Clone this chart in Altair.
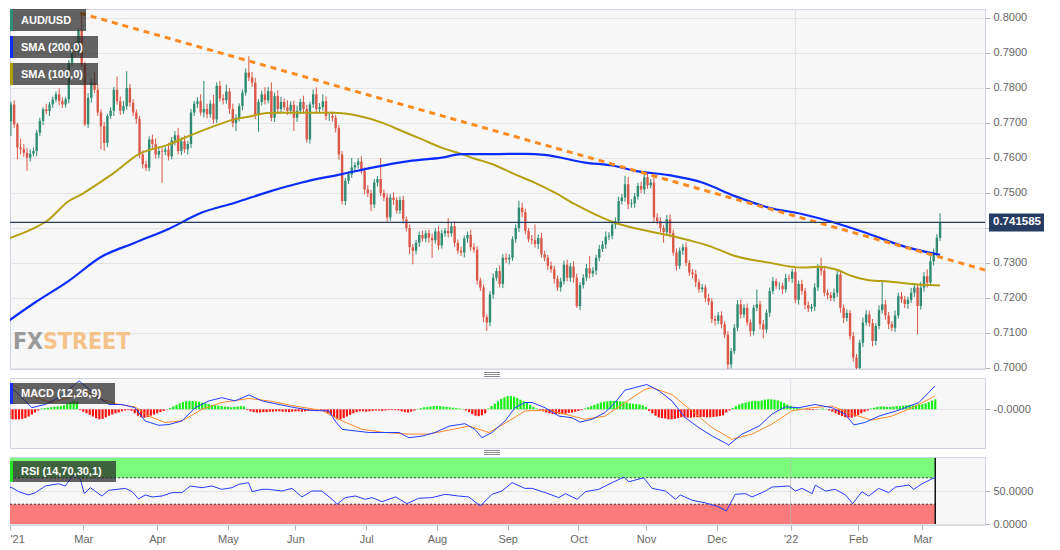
import json
import altair as alt
import pandas as pd

# ---------------- data (prices in pips) ----------------
first_open = 7745
closes = [
    7768, 7715, 7705, 7753, 7696, 7630, 7625, 7615, 7601, 7612,
    7620, 7672, 7706, 7739, 7734, 7753, 7767, 7782, 7763, 7753,
    7768, 7872, 7910, 7903, 7963, 7867, 7696, 7772, 7815, 7795,
    7730, 7691, 7643, 7720, 7735, 7795, 7762, 7735, 7748, 7800,
    7758, 7730, 7712, 7610, 7582, 7572, 7653, 7640, 7610, 7620,
    7618, 7624, 7605, 7650, 7665, 7620, 7648, 7625, 7640, 7730,
    7755, 7762, 7730, 7740, 7725, 7755, 7710, 7806, 7770, 7765,
    7790, 7740, 7700, 7715, 7748, 7787, 7844, 7830, 7815, 7725,
    7760, 7782, 7765, 7791, 7715, 7777, 7740, 7760, 7745, 7735,
    7752, 7715, 7735, 7760, 7740, 7653, 7753, 7782, 7740, 7745,
    7762, 7720, 7720, 7715, 7685, 7610, 7477, 7535, 7553, 7573,
    7580, 7590, 7563, 7510, 7500, 7467, 7530, 7540, 7500, 7487,
    7430, 7487, 7480, 7450, 7480, 7425, 7400, 7345, 7335, 7358,
    7380, 7370, 7385, 7372, 7365, 7390, 7350, 7385, 7392, 7385,
    7405, 7358, 7335, 7330, 7370, 7380, 7345, 7338, 7250, 7230,
    7145, 7130, 7210, 7258, 7277, 7240, 7315, 7310, 7315, 7368,
    7400, 7458, 7445, 7392, 7368, 7365, 7354, 7372, 7325, 7315,
    7292, 7282, 7255, 7230, 7248, 7295, 7258, 7290, 7258, 7177,
    7237, 7258, 7285, 7270, 7278, 7315, 7340, 7353, 7375, 7378,
    7410, 7420, 7477, 7487, 7525, 7468, 7470, 7490, 7520, 7510,
    7545, 7522, 7530, 7430, 7420, 7400, 7388, 7425, 7385, 7330,
    7292, 7335, 7345, 7300, 7273, 7268, 7245, 7225, 7230, 7200,
    7190, 7140, 7135, 7150, 7125, 7095, 7010, 7048, 7115, 7182,
    7153, 7172, 7130, 7105, 7172, 7182, 7125, 7110, 7158, 7220,
    7248, 7235, 7235, 7225, 7257, 7255, 7275, 7195, 7240, 7220,
    7180, 7170, 7175, 7230, 7286, 7278, 7215, 7208, 7200, 7215,
    7267, 7172, 7143, 7157, 7091, 7030, 7000, 7072, 7130, 7153,
    7128, 7077, 7120, 7165, 7182, 7150, 7125, 7115, 7150, 7205,
    7196, 7183, 7195, 7215, 7230, 7177, 7230, 7262, 7244, 7305,
    7329, 7372, 7415,
]
up_wick = [
    10, 5, 20, 8, 12, 5, 25, 15, 14, 13,
    10, 8, 9, 6, 16, 7, 8, 8, 17, 10,
    7, 8, 5, 22, 7, 51, 8, 13, 12, 30,
    15, 9, 12, 6, 10, 8, 38, 14, 15, 48,
    12, 10, 9, 8, 12, 10, 9, 14, 16, 12,
    10, 8, 20, 10, 12, 21, 11, 16, 9, 10,
    8, 12, 20, 80, 15, 10, 25, 10, 14, 12,
    20, 10, 15, 10, 8, 9, 12, 47, 16, 14,
    8, 10, 20, 12, 25, 10, 16, 14, 10, 20,
    10, 12, 15, 9, 18, 12, 8, 14, 20, 12,
    20, 14, 10, 12, 8, 9, 10, 8, 10, 27,
    8, 9, 15, 10, 12, 9, 10, 8, 60, 10,
    12, 10, 15, 8, 10, 12, 8, 10, 9, 8,
    10, 12, 8, 10, 12, 9, 15, 10, 8, 36,
    10, 14, 9, 12, 8, 10, 15, 12, 10, 8,
    9, 8, 10, 12, 9, 16, 10, 12, 10, 8,
    10, 20, 14, 10, 8, 12, 45, 10, 14, 10,
    8, 12, 10, 9, 10, 12, 14, 10, 15, 12,
    8, 10, 12, 35, 10, 9, 12, 10, 15, 10,
    9, 10, 12, 10, 24, 21, 12, 10, 9, 12,
    11, 14, 10, 15, 12, 10, 8, 12, 14, 10,
    12, 9, 10, 14, 8, 10, 12, 9, 10, 8,
    12, 10, 9, 10, 12, 8, 10, 9, 10, 12,
    14, 10, 12, 9, 8, 42, 10, 12, 9, 10,
    12, 8, 10, 9, 12, 10, 8, 14, 10, 12,
    9, 10, 8, 12, 10, 29, 14, 10, 9, 12,
    10, 12, 9, 10, 8, 12, 10, 9, 14, 12,
    10, 12, 8, 14, 66, 12, 10, 9, 14, 10,
    12, 10, 9, 14, 12, 10, 16, 12, 20, 14,
    12, 10, 27,
]
down_wick = [
    10, 8, 15, 42, 10, 34, 15, 12, 38, 11,
    8, 15, 10, 12, 9, 14, 10, 8, 12, 10,
    9, 12, 8, 15, 10, 7, 5, 10, 14, 9,
    10, 66, 23, 12, 8, 15, 10, 12, 9, 10,
    12, 10, 14, 10, 12, 9, 10, 15, 12, 10,
    89, 10, 12, 9, 14, 10, 12, 10, 15, 12,
    10, 12, 9, 14, 12, 10, 12, 10, 9, 12,
    10, 14, 12, 23, 10, 12, 9, 10, 12, 14,
    50, 10, 12, 9, 10, 12, 14, 10, 9, 12,
    10, 38, 12, 10, 14, 9, 12, 10, 12, 9,
    10, 12, 14, 10, 12, 15, 10, 12, 9, 10,
    12, 10, 9, 14, 12, 19, 10, 12, 9, 10,
    12, 10, 14, 9, 10, 12, 10, 20, 39, 10,
    12, 9, 10, 14, 50, 10, 12, 9, 10, 12,
    10, 12, 9, 10, 14, 12, 10, 9, 12, 10,
    14, 24, 10, 12, 9, 10, 12, 10, 14, 9,
    10, 12, 14, 10, 9, 12, 10, 14, 9, 10,
    12, 10, 14, 10, 12, 9, 10, 12, 14, 5,
    12, 10, 9, 14, 10, 12, 10, 9, 12, 10,
    10, 12, 9, 10, 12, 14, 10, 12, 9, 10,
    12, 10, 9, 14, 10, 12, 30, 10, 12, 9,
    14, 10, 12, 9, 10, 12, 14, 10, 9, 12,
    10, 12, 14, 10, 12, 10, 17, 12, 9, 10,
    12, 10, 9, 15, 12, 10, 14, 25, 10, 12,
    9, 10, 12, 14, 10, 9, 12, 10, 14, 10,
    12, 10, 9, 12, 10, 14, 10, 12, 9, 10,
    12, 14, 15, 10, 10, 12, 33, 10, 12, 9,
    10, 15, 12, 9, 10, 12, 14, 10, 12, 9,
    10, 12, 14, 9, 12, 81, 10, 12, 14, 10,
    12, 10, 9,
]

sma200_bar = [0, 10.5, 21, 31, 41.6, 52.2, 62.4, 72.7, 83.3, 93.5, 106, 116.2, 126.8, 137,
              143.3, 152.6, 163, 169, 181.5, 190.9, 197.1, 207.7, 218, 228.2, 238.8, 249,
              259.3, 269.9, 280.2, 292]
sma200_val = [7120, 7187, 7249, 7317, 7358, 7398, 7444, 7472, 7504, 7530, 7554, 7574, 7591, 7601,
              7611, 7611, 7612, 7609, 7587, 7577, 7563, 7551, 7530, 7491, 7458, 7440,
              7415, 7383, 7349, 7323]
sma100_bar = [0, 10.5, 14.2, 21, 25.1, 31.3, 34.4, 42.8, 52.2, 58.4, 67.7, 72.7, 78, 80.1, 85.1,
              95.7, 102.9, 111.3, 118.4, 124.6, 130.9, 137.1, 143.3, 147.3, 152.6, 159.8, 166,
              172.2, 178.4, 184.7, 190.9, 197.1, 203.3, 208.6, 213.9, 220.1, 228.2, 238.8, 249,
              254.3, 259.3, 264.6, 269.9, 276.1, 282.3, 292]
sma100_val = [7363, 7401, 7420, 7477, 7497, 7534, 7553, 7611, 7639, 7663, 7696, 7711, 7720, 7725, 7729,
              7729, 7729, 7720, 7701, 7677, 7653, 7629, 7611, 7598, 7583, 7553, 7529,
              7501, 7468, 7439, 7415, 7399, 7387, 7377, 7365, 7349, 7320, 7301, 7287,
              7289, 7282, 7263, 7251, 7247, 7241, 7236]

trend_bar = [24.5, 306.0]
trend_val = [8014, 7280]

current_price = 0.741585

macd_bar = [1.7, 5.8, 11, 15.1, 19.4, 22.6, 25.7, 28.8, 31.9, 35, 39, 43.1, 46.2, 50.5, 53.7, 57.7,
            61.8, 66.1, 70.1, 74.2, 78.5, 82.6, 87.9, 92.9, 98.1, 103.4, 105.3, 107.5, 111.5,
            115.9, 120.8, 125.2, 128.3, 132.4, 136.4, 140.8, 145.7, 148.8, 151, 154.1, 158.2,
            161.3, 164.4, 166.6, 170.6, 175, 179, 181.5, 185.2, 189.3, 192.4, 195.5, 202.3,
            206.1, 210.1, 214.2, 218.5, 222.6, 227.8, 231.9, 237.2, 241.2, 245.3, 249.6, 254.6,
            259.9, 263.9, 266.7, 270.1, 274.5, 280.7, 286.9, 291.9]
macd_val = [66, 46, 4, 12, 29, 50, 71, 50, 29, 12, 12, 4, -29, -40, -38, -29,
            4, 21, 29, 21, 36, 21, 12, 4, -3, -4, -29, -50, -54,
            -58, -58, -58, -71, -67, -58, -42, -36, -50, -71, -58, -29,
            4, 17, 17, 4, -17, -21, -32, -25, -8, 17, 48, 62,
            46, 21, -21, -46, -67, -89, -62, -42, -12, 6, 4, 12,
            4, -12, -39, -33, -17, -2, 17, 58]
signal_bar = [1.7, 5.8, 12, 17.3, 22.6, 27.5, 32.8, 38.1, 43.1, 47.4, 52.4, 57.7, 63.9, 70.1, 78.5,
              84.8, 92.9, 101.3, 107.5, 113.7, 120.8, 128.3, 134.5, 140.8, 147, 153.2, 159.4,
              164.4, 171.9, 176.8, 183, 189.3, 195.5, 201.7, 203.9, 210.1, 216.3, 222.6, 228.8,
              235, 241.2, 247.4, 253.7, 259.9, 266.1, 272.3, 278.5, 284.8, 291.9]
signal_val = [71, 58, 29, 17, 29, 46, 25, 12, 6, -17, -33, -29, 0, 17, 27,
              21, 8, -3, -29, -50, -58, -62, -62, -52, -42, -58, -29,
              -4, -2, -12, -25, -17, 17, 50, 54, 37, -4, -46, -75,
              -62, -37, -4, 4, 8, -12, -27, -17, 4, 33]
hist_val = [
    -8, -12, -16, -20, -23, -25, -25, -25, -24, -22, -18, -13, -8, -3,
    2, 3, 4, 5, 6, 7, 8, 10, 14, 18, 21, 20,
    -2, -6, -10, -14, -18, -22, -25, -24, -20, -16, -13, -10, -8, -5, -3, -2,
    -4, -10, -16, -20, -21, -19, -16, -13, -10, -7, -4, -1,
    3, 7, 11, 15, 18, 20, 21, 21, 20, 19, 17, 15, 13, 11, 10, 9, 8, 7, 6, 5, 6, 7, 8, 7,
    -2, -5, -7, -8, -8, -7, -7, -6, -6, -5, -5, -6, -6, -7, -6, -5, -5, -6, -5, -4, -4, -3, -3, -4, -6,
    -10, -14, -20, -25, -25, -22, -18, -14, -10, -7,
    -5, -5, -6, -5, -4, -3, -3, -4, -3, -2, -2, -2, -3, -5, -7, -8, -6, -3,
    1, 3, 5, 6, 7, 8, 8, 8, 7, 6, 5, 4, 3, 2, 1,
    -3, -7, -12, -16, -17, -15, -10,
    2, 8, 14, 20, 26, 30, 33, 33, 31, 28, 24, 20, 16, 11, 6, 2,
    -2, -5, -8, -10, -12, -12, -11, -12, -11, -9, -8, -6, -4, -2,
    2, 5, 8, 11, 14, 17, 19, 20, 21, 21, 21, 20, 19, 17, 15, 14, 13, 12, 10, 6,
    -4, -10, -16, -20, -22, -23, -25, -25, -24, -22, -20, -20, -21, -21, -20, -20, -19, -19, -20,
    -20, -19, -18, -17, -15, -8, -3,
    3, 8, 12, 15, 17, 19, 20, 21, 21, 22, 24, 25, 25, 24, 22, 19, 16, 12, 9, 6, 4,
    2, 1, -1, -2, -2, -1, 1, 2, 1,
    -3, -6, -10, -14, -17, -20, -21, -21, -18, -14, -10, -6, -3,
    2, 4, 6, 7, 7, 6, 6, 7, 8, 8, 9, 10, 11, 10, 11, 12, 13, 15, 18, 21, 25,
]
rsi_bar = [1.7, 4.8, 6.9, 10, 12.1, 15.2, 19.3, 21.4, 24, 26.1, 27.3, 29.2, 32.8, 34.9, 37.5, 40.1,
           42.2, 44.2, 46.3, 48.4, 51.5, 54.6, 57.7, 60.3, 63.9, 67, 70.1, 73.3, 75.3, 78.4, 79.5,
           82.6, 84.7, 88.8, 91.9, 95, 98.1, 101.2, 104.4, 105.9, 108.5, 111.6, 114.7, 116.8,
           119.9, 124.1, 127.7, 131.3, 135.5, 139.6, 143.7, 146.9, 150.5, 154.1, 157.2, 160.4,
           164.3, 166.6, 170.7, 174.9, 177, 180.6, 183.2, 187.3, 191.5, 195.1, 196.7, 201.3,
           203.9, 208.1, 211.2, 212.7, 216.4, 220.5, 224.7, 227, 229.8, 233, 235, 239.2, 241.2,
           246.5, 248.5, 250.6, 253.7, 254.7, 257.8, 260.9, 264.1, 266.3, 269.2, 271.3, 274.4,
           277.5, 279.6, 283.8, 285.3, 287.9, 292.1]
rsi_val = [57.6, 55, 49, 44, 47.5, 57.6, 61, 57.6, 75, 67.7, 46, 55, 42.4, 51, 52.5, 54,
           49, 38, 44, 41, 42.4, 47.5, 47.5, 57.6, 55, 57.6, 52.5, 55, 60, 62.6, 49,
           52.5, 52.5, 50, 54, 41, 50, 50, 37.4, 29.8, 40, 42.4, 37.4, 40,
           33.8, 41, 30.8, 39, 40, 45, 42.4, 41, 27.3, 45, 50, 62.6,
           54, 54, 47.5, 40, 46, 37.4, 49, 52.5, 62.6, 71, 64, 70,
           54, 50, 37.4, 44, 36, 32, 25.8, 19.7, 45, 46, 41, 50, 56,
           57.6, 50, 54, 46, 59, 50, 52.5, 44, 30.8, 49, 42.4, 54,
           47.5, 56, 59, 52.5, 61, 71]

price_ticks = [0.70, 0.71, 0.72, 0.73, 0.74, 0.75, 0.76, 0.77, 0.78, 0.79, 0.80]
month_bars = [27, 50, 72, 93, 115, 137, 159, 181, 202, 224, 247, 268, 288]
month_labels = ["Mar", "Apr", "May", "Jun", "Jul", "Aug", "Sep", "Oct", "Nov", "Dec", "'22", "Feb", "Mar"]
first_label = "'21"
year_bar = 247
rsi_zone_start, rsi_zone_end = 1.7, 292

# ---------------- layout ----------------
W = 975
PIP = 1e-4
XM = alt.Scale(domain=[2.706, 305.97], nice=False, zero=False)
XI_DOMAIN = [4.206, 307.47]
XI = alt.Scale(domain=XI_DOMAIN, nice=False, zero=False)
YM = alt.Scale(domain=[0.69971, 0.80257], nice=False, zero=False)
YMACD = alt.Scale(domain=[-96.75, 78.25], nice=False, zero=False)
YRSI = alt.Scale(domain=[-1.5, 101.5], nice=False, zero=False)

FONT = "Liberation Sans"

# identical axis objects shared by every layer of a panel (so they merge into one axis)
AX_MAIN = alt.Axis(orient="right", values=price_ticks, format=".4f", title=None, grid=True,
                   tickSize=5, labelPadding=3)
AX_MACD = alt.Axis(orient="right", values=[0], labelExpr="'-0.0000'", title=None, grid=True,
                   tickSize=5, labelPadding=3)
AX_RSI = alt.Axis(orient="right", values=[0, 50], format=".4f", title=None, grid=True,
                  tickSize=5, labelPadding=3)
tick_vals = [XI_DOMAIN[0]] + month_bars
tick_lbls = [first_label] + month_labels
label_expr = "''"
for v, lab in reversed(list(zip(tick_vals, tick_lbls))):
    label_expr = f"abs(datum.value - {v}) < 0.5 ? {json.dumps(lab)} : ({label_expr})"
AX_X = alt.Axis(orient="bottom", values=tick_vals, labelExpr=label_expr, title=None, grid=False,
                tickSize=5, labelPadding=3)

n = len(closes)
opens = [first_open] + closes[:-1]
candles = pd.DataFrame({
    "bar": list(range(n)),
    "open": [o * PIP for o in opens],
    "close": [c * PIP for c in closes],
})
candles["high"] = candles[["open", "close"]].max(axis=1) + pd.Series(up_wick[:n]) * PIP
candles["low"] = candles[["open", "close"]].min(axis=1) - pd.Series(down_wick[:n]) * PIP
candles["dir"] = ["up" if c >= o else "down" for o, c in zip(candles["open"], candles["close"])]


def tag(text, strip_color, top, width, h=22):
    d = pd.DataFrame({"t": [text]})
    box = alt.Chart(d).mark_rect(color="#222222", opacity=0.7).encode(
        x=alt.value(0), x2=alt.value(width), y=alt.value(top), y2=alt.value(top + h))
    strip = alt.Chart(d).mark_rect(color=strip_color).encode(
        x=alt.value(0), x2=alt.value(3), y=alt.value(top), y2=alt.value(top + h))
    label = alt.Chart(d).mark_text(color="white", fontSize=11, fontWeight="bold", align="left",
                                   baseline="middle", font=FONT).encode(
        x=alt.value(11), y=alt.value(top + h / 2 + 0.5), text="t:N")
    return [box, strip, label]


def handle(top):
    """three short grey strokes (pane resize grip) just above a panel"""
    d = pd.DataFrame({"k": [0]})
    return [alt.Chart(d).mark_rule(color="#8c8c8c", strokeWidth=1).encode(
        x=alt.value(474), x2=alt.value(490), y=alt.value(top + 2 * i + 0.5)) for i in range(3)]


# ---- main price panel ----
cscale = alt.Scale(domain=["up", "down"], range=["#2f8b72", "#db5849"])
xm = alt.X("bar:Q", scale=XM, axis=None)


def ym(field):
    return alt.Y(field, scale=YM, axis=AX_MAIN)


year_main = alt.Chart(pd.DataFrame({"bar": [year_bar]})).mark_rule(
    color="#e2e2e2", strokeWidth=1).encode(x=xm)

wm = pd.DataFrame({"a": ["FX"], "b": ["STREET"]})
wm_fx = alt.Chart(wm).mark_text(font="DejaVu Sans Condensed", fontSize=23,
                                fontWeight="bold", color="#9a9a9a", align="right",
                                baseline="alphabetic").encode(
    x=alt.value(33), y=alt.value(340), text="a:N")
wm_st = alt.Chart(wm).mark_text(font="DejaVu Sans Condensed", fontSize=23,
                                fontWeight="bold", color="#f3c389", align="left",
                                baseline="alphabetic").encode(
    x=alt.value(33), y=alt.value(340), text="b:N")

wicks = alt.Chart(candles).mark_rule(strokeWidth=1, clip=True).encode(
    x=xm, y=ym("low:Q"), y2="high:Q",
    color=alt.Color("dir:N", scale=cscale, legend=None))
bodies = alt.Chart(candles).mark_rule(strokeWidth=2.4, clip=True).encode(
    x=xm, y=ym("open:Q"), y2="close:Q",
    color=alt.Color("dir:N", scale=cscale, legend=None))

sma100 = alt.Chart(pd.DataFrame({"bar": sma100_bar, "v": [v * PIP for v in sma100_val]})).mark_line(
    color="#b4a010", strokeWidth=2, interpolate="monotone", clip=True).encode(x=xm, y=ym("v:Q"))
sma200 = alt.Chart(pd.DataFrame({"bar": sma200_bar, "v": [v * PIP for v in sma200_val]})).mark_line(
    color="#0b2cff", strokeWidth=2.2, interpolate="monotone", clip=True).encode(x=xm, y=ym("v:Q"))
trend = alt.Chart(pd.DataFrame({"bar": trend_bar, "v": [v * PIP for v in trend_val]})).mark_line(
    color="#ff8a1f", strokeWidth=3, strokeDash=[6, 5], clip=True).encode(x=xm, y=ym("v:Q"))

cp = pd.DataFrame({"p": [current_price], "t": [f"{current_price:.6f}"]})
price_rule = alt.Chart(cp).mark_rule(color="#263c63", strokeWidth=1.3).encode(y=ym("p:Q"))
price_box = alt.Chart(cp).mark_rect(color="#263c63", yOffset=-9, y2Offset=9).encode(
    x=alt.value(W + 4), x2=alt.value(W + 59), y=ym("p:Q"), y2="p:Q")
price_txt = alt.Chart(cp).mark_text(color="white", fontWeight="bold", fontSize=11.5, align="left",
                                    baseline="middle", font=FONT).encode(
    x=alt.value(W + 8), y=ym("p:Q"), text="t:N")

main = alt.layer(
    year_main, wm_fx, wm_st, wicks, bodies, sma100, sma200, trend, price_rule,
    *tag("AUD/USD", "#2e8b74", 0, 76),
    *tag("SMA (200,0)", "#0b2cff", 27, 88),
    *tag("SMA (100,0)", "#b09b00", 54, 88),
    price_box, price_txt,
).properties(width=W, height=360)

# ---- MACD panel ----
xi = alt.X("bar:Q", scale=XI, axis=None)


def yd(field):
    return alt.Y(field, scale=YMACD, axis=AX_MACD)


hist_df = pd.DataFrame({"bar": list(range(len(hist_val))), "h": hist_val})
hist_df["sign"] = ["pos" if h >= 0 else "neg" for h in hist_val]

year_macd = alt.Chart(pd.DataFrame({"bar": [year_bar]})).mark_rule(
    color="#e2e2e2", strokeWidth=1).encode(x=xi)
hist = alt.Chart(hist_df).mark_rule(strokeWidth=2.2, clip=True).encode(
    x=xi, y=yd("h:Q"), y2=alt.datum(0),
    color=alt.Color("sign:N", scale=alt.Scale(domain=["pos", "neg"], range=["#14f014", "#ff1010"]),
                    legend=None))
macd_line = alt.Chart(pd.DataFrame({"bar": macd_bar, "v": macd_val})).mark_line(
    color="#2340ff", strokeWidth=1, clip=True).encode(x=xi, y=yd("v:Q"))
signal_line = alt.Chart(pd.DataFrame({"bar": signal_bar, "v": signal_val})).mark_line(
    color="#ff8a2a", strokeWidth=1, clip=True).encode(x=xi, y=yd("v:Q"))

macd = alt.layer(
    year_macd, hist, signal_line, macd_line,
    *tag("MACD (12,26,9)", "#1a33ff", 5, 105, 21),
    *handle(-6),
).properties(width=W, height=70)

# ---- RSI panel ----
def xr(field):
    return alt.X(field, scale=XI, axis=AX_X)


def yr(field):
    return alt.Y(field, scale=YRSI, axis=AX_RSI)


zones = pd.DataFrame({"x0": [rsi_zone_start, rsi_zone_start], "x1": [rsi_zone_end, rsi_zone_end],
                      "lo": [70, 0], "hi": [100, 30], "z": ["ob", "os"]})
zone_rects = alt.Chart(zones).mark_rect(clip=True).encode(
    x=xr("x0:Q"), x2="x1:Q", y=yr("lo:Q"), y2="hi:Q",
    color=alt.Color("z:N", scale=alt.Scale(domain=["ob", "os"], range=["#7cfa7c", "#fa7b7b"]),
                    legend=None))
levels = pd.DataFrame({"x0": [rsi_zone_start, rsi_zone_start], "x1": [rsi_zone_end, rsi_zone_end],
                       "lv": [70, 30]})
level_lines = alt.Chart(levels).mark_rule(color="#111111", strokeWidth=0.8, strokeDash=[2, 2],
                                          clip=True).encode(
    x=xr("x0:Q"), x2="x1:Q", y=yr("lv:Q"))
zone_end = alt.Chart(pd.DataFrame({"bar": [rsi_zone_end], "lo": [0], "hi": [100]})).mark_rule(
    color="#111111", strokeWidth=1.5).encode(x=xr("bar:Q"), y=yr("lo:Q"), y2="hi:Q")
year_rsi = alt.Chart(pd.DataFrame({"bar": [year_bar]})).mark_rule(
    color="#b8b8b8", strokeWidth=1, opacity=0.6).encode(x=xr("bar:Q"))
rsi_line = alt.Chart(pd.DataFrame({"bar": rsi_bar, "v": rsi_val})).mark_line(
    color="#2a3cff", strokeWidth=1, clip=True).encode(x=xr("bar:Q"), y=yr("v:Q"))

rsi = alt.layer(
    zone_rects, level_lines, zone_end, year_rsi, rsi_line,
    *tag("RSI (14,70,30,1)", "#22e622", 4, 106, 21),
    *handle(-7),
).properties(width=W, height=68)

chart = alt.vconcat(main, macd, rsi, spacing=9, bounds="flush").resolve_scale(
    x="independent", y="independent", color="independent"
).properties(padding=0).configure_view(
    fill="#f7f7f7", stroke="#cdd4e4", strokeWidth=1
).configure_axis(
    labelFont=FONT, labelFontSize=11, labelColor="#666666", tickColor="#b5b5b5",
    gridColor="#e4e4e4", domain=False
)

chart.save("out.html", embed_options={"renderer": "svg", "actions": False})
